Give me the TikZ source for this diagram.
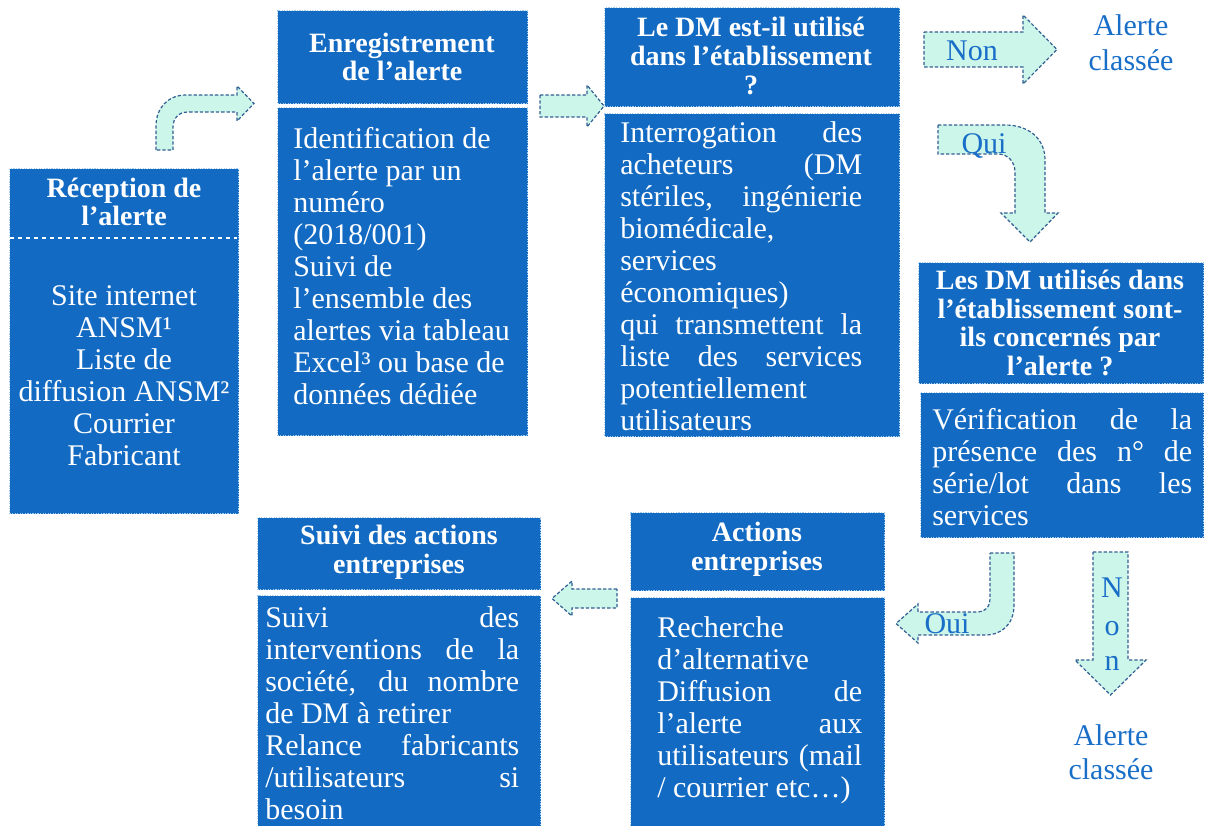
\documentclass[tikz,border=0pt]{standalone}
\usepackage{fontspec}
\setmainfont{Liberation Serif}
\definecolor{boxblue}{RGB}{18,106,195}
\definecolor{mint}{RGB}{204,246,234}
\definecolor{arrowline}{RGB}{50,95,145}
\definecolor{txtblue}{RGB}{25,110,200}
\definecolor{boxedge}{RGB}{165,205,240}
\newcommand\jl[2]{\makebox[#1][s]{#2}}
\tikzset{
  box/.style={fill=boxblue, draw=boxedge, densely dotted, line width=0.9pt, inner sep=0pt, anchor=north west},
  barrow/.style={fill=mint, draw=arrowline, dash pattern=on 2.5pt off 1.5pt, line width=0.9pt},
  head/.style={text=white, font=\fontsize{21}{21.5}\selectfont\bfseries, align=center, inner sep=0pt},
  body/.style={text=white, font=\fontsize{22.5}{24}\selectfont, inner sep=0pt, align=left, anchor=west},
  bodyc/.style={text=white, font=\fontsize{22.5}{24}\selectfont, inner sep=0pt, align=center},
  lab/.style={text=txtblue, font=\fontsize{22.5}{24}\selectfont, inner sep=0pt, anchor=base},
}
\begin{document}
\begin{tikzpicture}[x=0.75pt,y=-0.75pt]
\path[use as bounding box] (0,0) rectangle (1206,825);
\clip (0,0) rectangle (1206,825);

% boxes
\node[box, minimum width=171.75pt, minimum height=258.75pt] (rec) at (9,168) {};
\draw[white, dashed, line width=0.8pt] (10,238) -- (237,238);
\node[box, minimum width=187.5pt, minimum height=69.75pt] (enrH) at (277,10) {};
\node[box, minimum width=187.5pt, minimum height=246pt] (enrB) at (277,107) {};
\node[box, minimum width=221.25pt, minimum height=74.25pt] (dmH) at (604,7) {};
\node[box, minimum width=221.25pt, minimum height=242.25pt] (dmB) at (604,113) {};
\node[box, minimum width=213.75pt, minimum height=90.75pt] (lesH) at (918,262) {};
\node[box, minimum width=212.25pt, minimum height=108.75pt] (lesB) at (920,392) {};
\node[box, minimum width=212.25pt, minimum height=54pt] (suiH) at (257,517) {};
\node[box, minimum width=212.25pt, minimum height=176.25pt] (suiB) at (257,595) {};
\node[box, minimum width=190.5pt, minimum height=58.5pt] (actH) at (630,512) {};
\node[box, minimum width=190.5pt, minimum height=174.75pt] (actB) at (630,597) {};

% texts
\node[head] (t1) at (124,202) {Réception de\\l’alerte};
\node[bodyc] (t2) at (124,376) {Site internet\\ANSM¹\\Liste de\\diffusion ANSM²\\Courrier\\Fabricant};
\node[head] (t3) at (402,57) {Enregistrement\\de l’alerte};
\node[body] (t4) at (293,266) {Identification de\\l’alerte par un\\numéro\\(2018/001)\\Suivi de\\l’ensemble des\\alertes via tableau\\Excel³ ou base de\\données dédiée};
\node[head] (t5) at (751,56) {Le DM est-il utilisé\\dans l’établissement\\?};
\node[body] (t6) at (620,276) {\jl{181.5pt}{Interrogation des}\\\jl{181.5pt}{acheteurs (DM}\\\jl{181.5pt}{stériles, ingénierie}\\biomédicale,\\services\\économiques)\\\jl{181.5pt}{qui transmettent la}\\\jl{181.5pt}{liste des services}\\potentiellement\\utilisateurs};
\node[head] (t7) at (1060,323) {Les DM utilisés dans\\l’établissement sont-\\ils concernés par\\l’alerte ?};
\node[body] (t8) at (932,467) {\jl{195pt}{Vérification de la}\\\jl{195pt}{présence des n° de}\\\jl{195pt}{série/lot dans les}\\services};
\node[head] (t9) at (399,552) {Suivi des actions\\entreprises};
\node[body] (t10) at (265,713) {\jl{190.5pt}{Suivi des}\\\jl{190.5pt}{interventions de la}\\\jl{190.5pt}{société, du nombre}\\de DM à retirer\\\jl{190.5pt}{Relance fabricants}\\\jl{190.5pt}{/utilisateurs si}\\besoin};
\node[head] (t11) at (757,549) {Actions\\entreprises};
\node[body] (t12) at (657,710) {Recherche\\d’alternative\\\jl{153.75pt}{Diffusion de}\\\jl{153.75pt}{l’alerte aux}\\\jl{153.75pt}{utilisateurs (mail}\\/ courrier etc…)};

% block arrows
\draw[barrow] (156,150) -- (156,126) .. controls (156,108) and (168,95) .. (186,95) -- (237,95) -- (237,86) -- (254,103.5) -- (237,121) -- (237,112) -- (188,112) .. controls (179,112) and (173,118) .. (173,127) -- (173,150) -- cycle;
\draw[barrow] (540,95) -- (587,95) -- (587,85) -- (604,106) -- (587,127) -- (587,117) -- (540,117) -- cycle;
\draw[barrow] (924,32) -- (1023,32) -- (1023,15) -- (1057,49.5) -- (1023,84) -- (1023,67) -- (924,67) -- cycle;
\draw[barrow] (938,125) -- (1005,125) .. controls (1028,125) and (1045,138) .. (1045,160) -- (1045,213) -- (1058,213) -- (1030,242) -- (1001,213) -- (1015,213) -- (1015,172) .. controls (1015,162) and (1008,154) .. (998,154) -- (938,154) -- cycle;
\draw[barrow] (990,553) -- (1014,553) -- (1014,605) .. controls (1014,624) and (1002,635) .. (985,635) -- (918,635) -- (918,643) -- (896,623.5) -- (918,604) -- (918,612) -- (978,612) .. controls (985,612) and (990,607) .. (990,598) -- cycle;
\draw[barrow] (1093,552) -- (1128,552) -- (1128,660) -- (1146,660) -- (1110.5,695) -- (1075,660) -- (1093,660) -- cycle;
\draw[barrow] (617,589) -- (572,589) -- (572,581) -- (552,598.5) -- (572,616) -- (572,608) -- (617,608) -- cycle;

% labels
\node[lab] (non1) at (972,60) {Non};
\node[lab] (al1) at (1131,35) {Alerte};
\node[lab] (cl1) at (1131,70) {classée};
\node[lab] (qui) at (984,153) {Qui};
\node[lab] (oui) at (947,633) {Oui};
\node[lab] (n1) at (1112,597) {N};
\node[lab] (n2) at (1112,635) {o};
\node[lab] (n3) at (1112,670) {n};
\node[lab] (al2) at (1111,745) {Alerte};
\node[lab] (cl2) at (1111,779) {classée};
\end{tikzpicture}
\end{document}
